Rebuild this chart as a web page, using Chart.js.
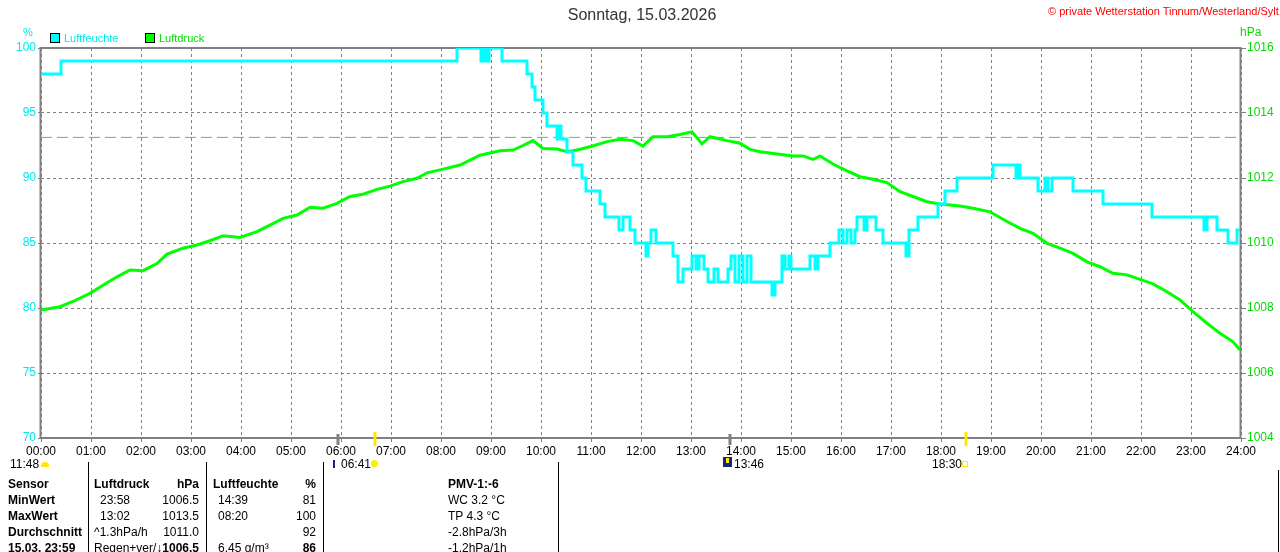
<!DOCTYPE html>
<html>
<head>
<meta charset="utf-8">
<script src="https://cdn.jsdelivr.net/npm/chart.js@4/dist/chart.umd.min.js"></script>
<style>
  body { margin: 0; width: 1280px; height: 552px; overflow: hidden; background: #fff;
         font-family: "Liberation Sans", Arial, sans-serif; position: relative; }
  .t { position: absolute; font-size: 12px; line-height: 14px; white-space: nowrap; color: #000; }
  .b { font-weight: bold; }
  .r { text-align: right; }
  .vl { position: absolute; width: 1px; background: #000; }
  #wrap { position: absolute; left: 0; top: 0; width: 1280px; height: 470px; }
</style>
</head>
<body>
<div id="wrap"><canvas id="wetterChart"></canvas></div>

<!-- header -->
<div class="t" style="left:0;width:1284px;text-align:center;top:6px;font-size:16px;line-height:18px;color:#333">Sonntag, 15.03.2026</div>
<div class="t" style="left:1048px;top:4px;font-size:11px;color:#f00">© private Wetterstation Tinnum/Westerland/Sylt</div>
<div class="t" style="left:23px;top:25px;font-size:11px;color:#00e8e8">%</div>
<div class="t" style="left:1240px;top:25px;font-size:12px;color:#00dd00">hPa</div>
<div style="position:absolute;left:50px;top:33px;width:8px;height:8px;border:1px solid #000;background:#00ffff"></div>
<div class="t" style="left:64px;top:31px;font-size:11px;color:#00e8e8">Luftfeuchte</div>
<div style="position:absolute;left:145px;top:33px;width:8px;height:8px;border:1px solid #000;background:#00ff00"></div>
<div class="t" style="left:159px;top:31px;font-size:11px;color:#00dd00">Luftdruck</div>

<!-- astro labels under the time axis -->
<div class="t" style="left:10px;top:457px">11:48</div>
<div style="position:absolute;left:41px;top:462px;width:8px;height:5px;background:#ffe800;border-radius:4px 4px 0 0"></div>
<div style="position:absolute;left:333px;top:460px;width:2px;height:8px;background:#1a237e"></div>
<div class="t" style="left:341px;top:457px">06:41</div>
<div style="position:absolute;left:371px;top:460px;width:7px;height:7px;background:#ffee00;border-radius:4px"></div>
<div style="position:absolute;left:723px;top:457px;width:9px;height:10px;background:#1a237e"></div>
<div style="position:absolute;left:726px;top:458px;width:3px;height:5px;background:#ffee00"></div>
<div class="t" style="left:734px;top:457px">13:46</div>
<div class="t" style="left:932px;top:457px">18:30</div>
<div style="position:absolute;left:962px;top:461px;width:4px;height:4px;border:1px solid #ffee00"></div>

<!-- table -->
<div class="vl" style="left:88px;top:462px;height:90px"></div>
<div class="vl" style="left:206px;top:462px;height:90px"></div>
<div class="vl" style="left:323px;top:462px;height:90px"></div>
<div class="vl" style="left:558px;top:462px;height:90px"></div>
<div class="vl" style="left:1278px;top:470px;height:82px"></div>

<div class="t b" style="left:8px;top:477px">Sensor</div>
<div class="t b" style="left:8px;top:493px">MinWert</div>
<div class="t b" style="left:8px;top:509px">MaxWert</div>
<div class="t b" style="left:8px;top:525px">Durchschnitt</div>
<div class="t b" style="left:8px;top:541px">15.03. 23:59</div>

<div class="t b" style="left:94px;top:477px">Luftdruck</div>
<div class="t b r" style="left:150px;width:49px;top:477px">hPa</div>
<div class="t" style="left:100px;top:493px">23:58</div>
<div class="t r" style="left:150px;width:49px;top:493px">1006.5</div>
<div class="t" style="left:100px;top:509px">13:02</div>
<div class="t r" style="left:150px;width:49px;top:509px">1013.5</div>
<div class="t" style="left:94px;top:525px">^1.3hPa/h</div>
<div class="t r" style="left:150px;width:49px;top:525px">1011.0</div>
<div class="t" style="left:94px;top:541px">Regen+ver/</div>
<div class="t b r" style="left:150px;width:49px;top:541px">↓1006.5</div>

<div class="t b" style="left:213px;top:477px">Luftfeuchte</div>
<div class="t b r" style="left:280px;width:36px;top:477px">%</div>
<div class="t" style="left:218px;top:493px">14:39</div>
<div class="t r" style="left:280px;width:36px;top:493px">81</div>
<div class="t" style="left:218px;top:509px">08:20</div>
<div class="t r" style="left:280px;width:36px;top:509px">100</div>
<div class="t r" style="left:280px;width:36px;top:525px">92</div>
<div class="t" style="left:218px;top:541px">6.45 g/m³</div>
<div class="t b r" style="left:280px;width:36px;top:541px">86</div>

<div class="t b" style="left:448px;top:477px">PMV-1:-6</div>
<div class="t" style="left:448px;top:493px">WC 3.2 °C</div>
<div class="t" style="left:448px;top:509px">TP 4.3 °C</div>
<div class="t" style="left:448px;top:525px">-2.8hPa/3h</div>
<div class="t" style="left:448px;top:541px">-1.2hPa/1h</div>

<script>
// Luftfeuchte (%): hour of change -> new value (stepped)
const humTimes = [0, 0.40, 8.32, 8.80, 8.84, 8.90, 8.96, 9.22, 9.72, 9.82, 9.88, 10.04, 10.12,
  10.32, 10.36, 10.40, 10.52, 10.64, 10.82, 10.90, 11.18, 11.28, 11.56, 11.64, 11.78, 11.88,
  12.10, 12.14, 12.20, 12.30, 12.64, 12.74, 12.84, 13.02, 13.10, 13.16, 13.26, 13.34, 13.46,
  13.54, 13.74, 13.80, 13.88, 13.96, 14.04, 14.12, 14.20, 14.62, 14.68, 14.82, 14.88, 14.96,
  15.00, 15.38, 15.48, 15.54, 15.78, 15.96, 16.04, 16.12, 16.20, 16.28, 16.32, 16.46, 16.52,
  16.70, 16.84, 17.30, 17.36, 17.54, 17.94, 18.08, 18.32, 19.04, 19.50, 19.54, 19.58, 19.94,
  20.08, 20.14, 20.22, 20.64, 21.24, 22.22, 23.26, 23.32, 23.52, 23.74, 23.92, 23.98];
const humValues = [98, 99, 100, 99, 100, 99, 100, 99, 98, 97, 96, 95, 94,
  93, 94, 93, 92, 91, 90, 89, 88, 87, 86, 87, 86, 85,
  84, 85, 86, 85, 84, 82, 83, 84, 83, 84, 83, 82, 83,
  82, 83, 84, 82, 84, 82, 84, 82, 81, 82, 84, 83, 84,
  83, 84, 83, 84, 85, 86, 85, 86, 85, 86, 87, 86, 87,
  86, 85, 84, 86, 87, 88, 89, 90, 91, 90, 91, 90, 89,
  90, 89, 90, 89, 88, 87, 86, 87, 86, 85, 86, 86];

// Luftdruck (hPa)
const pressTimes = [0, 0.38, 0.64, 0.98, 1.24, 1.52, 1.78, 2.04, 2.32, 2.52, 2.84, 3.12, 3.38,
  3.64, 3.98, 4.32, 4.58, 4.84, 5.12, 5.38, 5.64, 5.92, 6.18, 6.44, 6.72, 6.98, 7.24, 7.52,
  7.72, 7.98, 8.38, 8.78, 9.18, 9.44, 9.64, 9.84, 10.04, 10.32, 10.52, 10.72, 10.98, 11.32,
  11.58, 11.84, 12.04, 12.24, 12.52, 12.78, 13.02, 13.22, 13.38, 13.72, 13.98, 14.18, 14.38,
  14.72, 15.04, 15.24, 15.44, 15.58, 15.84, 16.12, 16.38, 16.64, 16.92, 17.18, 17.44, 17.72,
  17.98, 18.38, 18.64, 18.98, 19.32, 19.58, 19.84, 20.12, 20.38, 20.64, 20.92, 21.18, 21.44,
  21.72, 21.98, 22.24, 22.52, 22.78, 23.04, 23.32, 23.58, 23.84, 23.98];
const pressValues = [1007.94, 1008.04, 1008.2, 1008.45, 1008.7, 1008.96, 1009.17, 1009.15,
  1009.37, 1009.66, 1009.84, 1009.94, 1010.07, 1010.22, 1010.17, 1010.35, 1010.55, 1010.76,
  1010.86, 1011.1, 1011.07, 1011.22, 1011.43, 1011.5, 1011.65, 1011.75, 1011.89, 1011.99,
  1012.16, 1012.25, 1012.4, 1012.7, 1012.84, 1012.86, 1013.0, 1013.15, 1012.91, 1012.89,
  1012.81, 1012.86, 1012.96, 1013.12, 1013.19, 1013.15, 1012.98, 1013.27, 1013.27, 1013.34,
  1013.42, 1013.05, 1013.27, 1013.15, 1013.07, 1012.88, 1012.81, 1012.74, 1012.68, 1012.68,
  1012.57, 1012.68, 1012.43, 1012.22, 1012.04, 1011.96, 1011.86, 1011.58, 1011.43, 1011.27,
  1011.2, 1011.14, 1011.07, 1010.96, 1010.66, 1010.45, 1010.3, 1009.99, 1009.84, 1009.68,
  1009.42, 1009.27, 1009.07, 1009.02, 1008.88, 1008.74, 1008.5, 1008.25, 1007.89, 1007.53,
  1007.22, 1006.96, 1006.71, 1006.55];

const NORMAL_PRESSURE = 1013.25;
const moonTimes = [5.94, 13.77];   // grey marks on the time axis
const sunTimes = [6.683, 18.5];    // sunrise / sunset

const toPoints = (xs, ys) => xs.map((x, i) => ({ x: x, y: ys[i] }));

const framePlugin = {
  id: 'frame',
  beforeDatasetsDraw(chart) {
    const { ctx, chartArea: a } = chart;
    ctx.save();
    ctx.strokeStyle = '#808080';
    ctx.lineWidth = 2;
    ctx.strokeRect(a.left - 0.5, a.top, a.right - a.left, a.bottom - a.top);
    ctx.restore();
  },
  afterDraw(chart) {
    const { ctx, chartArea: a } = chart;
    const xs = chart.scales.x;
    ctx.save();
    ctx.lineWidth = 3;
    ctx.strokeStyle = '#808080';
    moonTimes.forEach(t => {
      const px = Math.round(xs.getPixelForValue(t));
      ctx.beginPath(); ctx.moveTo(px, a.bottom - 4); ctx.lineTo(px, a.bottom + 7); ctx.stroke();
    });
    ctx.strokeStyle = '#ffe800';
    sunTimes.forEach(t => {
      const px = Math.round(xs.getPixelForValue(t));
      ctx.beginPath(); ctx.moveTo(px, a.bottom - 6); ctx.lineTo(px, a.bottom + 8); ctx.stroke();
    });
    ctx.restore();
  }
};

new Chart(document.getElementById('wetterChart'), {
  type: 'line',
  data: {
    datasets: [
      {
        label: 'Luftfeuchte',
        data: toPoints(humTimes, humValues),
        yAxisID: 'y',
        borderColor: '#00ffff',
        borderWidth: 3,
        stepped: true,
        pointRadius: 0
      },
      {
        label: 'Luftdruck',
        data: toPoints(pressTimes, pressValues),
        yAxisID: 'y1',
        borderColor: '#00ff00',
        borderWidth: 3,
        pointRadius: 0
      },
      {
        label: 'Normaldruck',
        data: toPoints([0, 24], [NORMAL_PRESSURE, NORMAL_PRESSURE]),
        yAxisID: 'y1',
        borderColor: '#44cc44',
        borderWidth: 1,
        borderDash: [11, 5],
        pointRadius: 0
      }
    ]
  },
  options: {
    responsive: true,
    maintainAspectRatio: false,
    animation: false,
    layout: { padding: { top: 48, left: 0, right: 0, bottom: 0 } },
    plugins: { legend: { display: false }, tooltip: { enabled: false } },
    scales: {
      x: {
        type: 'linear', min: 0, max: 24,
        afterFit: s => { s.height = 32; },
        ticks: {
          stepSize: 1, autoSkip: false, maxRotation: 0, padding: 2,
          color: '#000', font: { family: 'Liberation Sans', size: 12 },
          callback: v => String(v).padStart(2, '0') + ':00'
        },
        grid: { color: '#808080', tickColor: '#808080', tickLength: 4, tickBorderDash: [] },
        border: { display: false, dash: [3, 3] }
      },
      y: {
        position: 'left', min: 70, max: 100,
        afterFit: s => { s.width = 41; },
        ticks: { stepSize: 5, padding: 2, color: '#00e8e8', font: { family: 'Liberation Sans', size: 12 },
                 callback: v => String(v) },
        grid: { color: '#808080', tickColor: '#808080', tickLength: 3, tickBorderDash: [] },
        border: { display: false, dash: [3, 3] }
      },
      y1: {
        position: 'right', min: 1004, max: 1016,
        afterFit: s => { s.width = 39; },
        ticks: { stepSize: 2, padding: 1, color: '#00dd00', font: { family: 'Liberation Sans', size: 12 },
                 callback: v => String(v) },
        grid: { drawOnChartArea: false, tickColor: '#808080', tickLength: 5, tickBorderDash: [] },
        border: { display: false }
      }
    }
  },
  plugins: [framePlugin]
});
</script>
</body>
</html>
